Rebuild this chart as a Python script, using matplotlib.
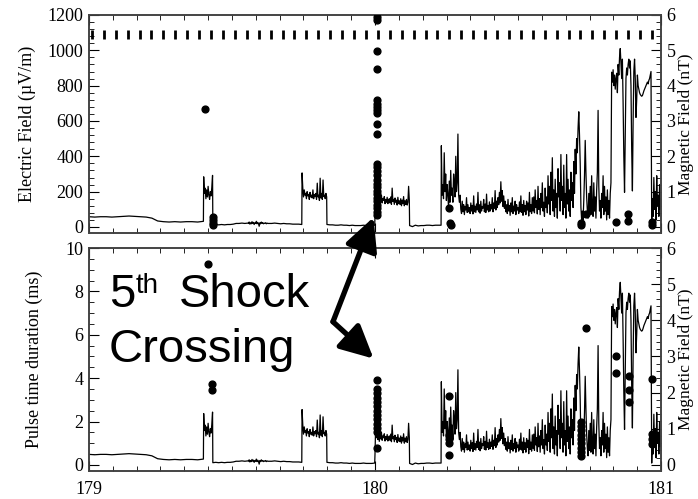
import numpy as np
import matplotlib.pyplot as plt
from matplotlib.ticker import MultipleLocator

# magnetic field trace (nT): (start day, end day, values)
quiet1 = (179.000, 179.400, [0.29, 0.28, 0.29, 0.29, 0.28, 0.29, 0.3, 0.31, 0.3, 0.29, 0.28,
                             0.25, 0.17, 0.15, 0.14, 0.15, 0.14, 0.15, 0.15, 0.14, 0.16])
pulse1 = (179.401, 179.432, [1.42, 0.95, 1.1, 0.8, 1.05, 0.85, 1.15, 0.9, 0.78, 1.0, 0.88, 1.12, 1.46])
quiet2 = (179.433, 179.555, [0.06, 0.07, 0.06, 0.07, 0.06, 0.07, 0.07, 0.08, 0.1, 0.1, 0.11, 0.1, 0.11])
noise1 = (179.5575, 179.625, [0.1, 0.14, 0.08, 0.12, 0.09, 0.15, 0.1, 0.13, 0.07, 0.12, 0.1, 0.16,
                              0.09, 0.13, 0.1, 0.02, 0.12, 0.09, 0.14, 0.1, 0.12, 0.09, 0.11, 0.1,
                              0.12, 0.09, 0.11, 0.1])
quiet3 = (179.628, 179.744, [0.1, 0.1, 0.11, 0.1, 0.09, 0.1, 0.09, 0.09, 0.08, 0.08, 0.08, 0.07])
pulse2 = (179.745, 179.831, [1.53, 1.1, 0.85, 1.05, 0.9, 0.95, 0.8, 1.0, 0.88, 0.92, 0.78, 0.98,
                             0.85, 0.9, 0.82, 1.05, 0.8, 0.92, 0.86, 0.95, 0.78, 1.24, 0.85, 0.9,
                             0.75, 1.38, 0.82, 0.95, 0.78, 1.33, 0.86, 0.9, 0.8, 0.95, 0.85])
quiet4 = (179.832, 179.999, [0.07, 0.06, 0.06, 0.05, 0.05, 0.06, 0.05, 0.05, 0.04, 0.05, 0.04, 0.04,
                             0.04, 0.05, 0.04, 0.04, 0.04, 0.05])
active1 = (180.000, 180.120, [0.3, 1.15, 0.75, 0.95, 0.7, 0.88, 0.65, 0.84, 0.72, 0.9, 0.68, 0.8,
                              0.75, 0.86, 0.66, 0.78, 0.7, 0.84, 0.66, 0.76, 0.8, 0.68, 0.85, 0.64,
                              1.1, 0.72, 0.78, 0.64, 0.82, 0.7, 0.76, 0.62, 0.84, 0.66, 0.74, 0.64,
                              0.8, 0.6, 0.76, 0.66, 0.86, 0.6, 0.74, 0.64, 0.78, 0.62, 0.7, 1.15, 0.75])
quiet5 = (180.121, 180.231, [0.04, 0.01, 0.05, 0.03, 0.04, 0.04, 0.05, 0.05, 0.04, 0.05, 0.05, 0.05])
active2 = (180.232, 180.300, [2.3, 0.9, 1.2, 0.8, 2.1, 1.0, 1.5, 0.75, 1.2, 0.9, 0.55, 1.3, 0.7,
                              1.6, 0.9, 1.1, 0.7, 1.5, 1.25, 0.85, 2.0, 1.0, 1.25, 2.63, 0.9, 0.7,
                              0.9, 0.5])
active3 = (180.3025, 180.550, [
    0.38, 0.73, 0.43, 0.63, 0.35, 0.58, 0.48, 0.83, 0.41, 0.63,
    0.43, 0.55, 0.38, 0.68, 0.45, 0.61, 0.37, 0.88, 0.43, 0.59,
    0.41, 0.65, 0.48, 0.98, 0.43, 0.63, 0.39, 0.73, 0.45, 0.58,
    0.53, 0.78, 0.43, 0.65, 0.41, 0.93, 0.48, 0.61, 0.43, 0.71,
    0.45, 0.63, 0.51, 0.83, 0.43, 0.68, 0.53, 1.03, 0.48, 0.73,
    0.55, 0.83, 0.63, 0.98, 0.68, 1.28, 0.73, 1.03, 0.58, 0.88,
    0.53, 0.73, 0.43, 0.63, 0.38, 0.78, 0.45, 0.61, 0.33, 0.68,
    0.43, 0.83, 0.38, 0.59, 0.45, 0.73, 0.35, 0.63, 0.48, 0.55,
    0.38, 0.71, 0.43, 0.88, 0.41, 0.63, 0.33, 0.75, 0.43, 0.61,
    0.35, 0.73, 0.48, 0.68, 0.31, 0.98, 0.43, 0.63, 0.38, 0.83])
active4 = (180.5525, 180.825, [
    0.45, 0.85, 0.4, 1.05, 0.55, 0.75, 0.37, 1.15, 0.5, 0.8,
    0.35, 0.95, 0.55, 1.25, 0.45, 0.7, 0.3, 1.1, 0.55, 0.85,
    0.4, 1.45, 0.65, 1.15, 0.35, 1.55, 0.75, 1.96, 0.45, 1.05,
    0.3, 1.35, 0.55, 0.95, 0.25, 1.65, 0.85, 1.25, 0.45, 2.05,
    0.75, 1.15, 0.35, 1.75, 0.55, 0.95, 0.25, 2.05, 0.65, 1.35,
    0.45, 1.05, 0.3, 1.55, 0.75, 1.25, 0.55, 1.85, 0.95, 2.2,
    1.5, 2.5, 2.1, 2.8, 3.26, 2.6, 1.8, 0.55, 0.2, 0.45,
    0.2, 0.75, 1.45, 2.45, 1.55, 0.85, 0.45, 0.25, 0.95, 0.4,
    1.15, 0.35, 1.45, 0.55, 0.3, 1.25, 0.45, 0.85, 0.25, 1.05,
    1.55, 3.3, 1.15, 0.45, 0.75, 0.25, 0.95, 0.55, 1.45, 0.35,
    1.15, 0.45, 0.85, 0.2, 1.05, 0.35, 0.75, 0.25, 0.95, 1.25])
active5 = (180.8275, 180.965, [
    4.38, 4.1, 4.45, 4.0, 4.3, 3.9, 4.2, 4.35, 3.8, 4.6,
    4.3, 4.8, 5.05, 4.6, 4.2, 4.75, 3.5, 2.0, 0.98, 2.5,
    4.2, 4.5, 4.3, 4.6, 4.75, 4.5, 4.7, 4.0, 2.2, 1.02,
    3.0, 4.4, 4.75, 4.2, 3.1, 3.6, 4.3, 4.0, 3.9, 3.8,
    3.75, 3.72, 3.7, 3.72, 3.78, 3.85, 3.9, 3.95, 4.0, 4.05,
    4.1, 4.05, 4.15, 4.2, 4.3, 4.4])
active6 = (180.9675, 181.000, [0.05, 0.8, 0.3, 1.4, 0.5, 1.0, 0.2, 1.45, 0.6, 0.9, 0.3, 1.2, 0.5, 0.8])

# electric field dots (day, uV/m)
efield_t = [179.405, 179.432, 179.432, 179.432, 179.432] + [180.007] * 26 + \
           [180.257, 180.262, 180.264, 180.722, 180.722, 180.737, 180.843, 180.886, 180.886,
            180.967, 180.967]
efield_v = [666, 55, 40, 25, 12,
            1190, 1170, 997, 895, 716, 697, 680, 662, 645, 581, 524, 355, 337, 319, 292, 265,
            245, 225, 205, 185, 165, 145, 125, 105, 85, 70,
            110, 25, 12, 25, 10, 75, 30, 75, 35, 30, 12]

# pulse duration dots (day, ms)
pulse_t = [179.417, 179.431, 179.431] + [180.007] * 13 + [180.26] * 5 + [180.722] * 9 + \
          [180.736, 180.843, 180.843, 180.888, 180.888, 180.888, 180.97, 180.97, 180.97, 180.97]
pulse_v = [9.24, 3.74, 3.44,
           3.93, 3.5, 3.3, 3.1, 2.9, 2.7, 2.5, 2.3, 2.1, 1.9, 1.7, 1.5, 0.8,
           3.2, 1.4, 1.2, 1.0, 0.46,
           2.0, 1.8, 1.6, 1.4, 1.2, 1.0, 0.8, 0.6, 0.4,
           6.3, 5.03, 4.25, 4.1, 3.44, 2.92, 3.96, 1.43, 1.2, 0.98]

# hourly marks along the top panel
hour_marks = 179.01 + np.arange(48) / 24

segments = [quiet1, pulse1, quiet2, noise1, quiet3, pulse2, quiet4, active1, quiet5,
            active2, active3, active4, active5, active6]
trace_t = np.concatenate([np.linspace(a, b, len(v)) for a, b, v in segments])
trace_b = np.concatenate([np.array(v, float) for a, b, v in segments])

plt.rcParams['font.family'] = 'Liberation Serif'
plt.rcParams['font.size'] = 13

fig = plt.figure(figsize=(6.98, 4.99), dpi=100)
ax1 = fig.add_axes([0.1275, 0.5331, 0.8195, 0.4369])
ax2 = fig.add_axes([0.1275, 0.0561, 0.8195, 0.4469])
ax1b = ax1.twinx()
ax2b = ax2.twinx()

for a, ab in [(ax1, ax1b), (ax2, ax2b)]:
    ab.plot(trace_t, trace_b, color='black', lw=0.9)
    ab.set_ylim(-0.17, 6)
    ab.yaxis.set_major_locator(MultipleLocator(1))
    ab.yaxis.set_minor_locator(MultipleLocator(0.2))
    ab.set_ylabel('Magnetic Field (nT)', fontsize=12.5)
    ab.yaxis.set_label_coords(1.03, 0.5)
    a.set_zorder(ab.get_zorder() + 1)
    a.patch.set_visible(False)
    a.set_xlim(179, 181)
    a.xaxis.set_major_locator(MultipleLocator(1))
    a.xaxis.set_minor_locator(MultipleLocator(1 / 12))
    for axx in (a, ab):
        axx.tick_params(which='both', direction='in', colors='black', pad=4)
        axx.tick_params(which='major', length=7)
        axx.tick_params(which='minor', length=3.5)
        for s in axx.spines.values():
            s.set_color('#444444')
            s.set_linewidth(1.2)
    a.tick_params(axis='x', which='both', top=True, bottom=True, pad=7)

ax1.scatter(efield_t, efield_v, s=24, color='black', zorder=3)
ax1.vlines(hour_marks, 1065, 1115, color='black', lw=2.0)
ax1.set_ylim(-34, 1200)
ax1.yaxis.set_major_locator(MultipleLocator(200))
ax1.yaxis.set_minor_locator(MultipleLocator(40))
ax1.set_ylabel('Electric Field (\u00b5V/m)', fontsize=13)
ax1.yaxis.set_label_coords(-0.093, 0.5)
ax1.tick_params(axis='x', labelbottom=False)

ax2.scatter(pulse_t, pulse_v, s=24, color='black', zorder=3)
ax2.set_ylim(-0.28, 10)
ax2.yaxis.set_major_locator(MultipleLocator(2))
ax2.yaxis.set_minor_locator(MultipleLocator(0.5))
ax2.set_ylabel('Pulse time duration (ms)', fontsize=13)
ax2.yaxis.set_label_coords(-0.081, 0.5)

# annotation
sans = 'Liberation Sans'
fig.text(0.156, 0.3848, '5', fontsize=34, family=sans, va='baseline')
fig.text(0.194, 0.4128, 'th', fontsize=20, family=sans, va='baseline')
fig.text(0.257, 0.3848, 'Shock', fontsize=34, family=sans, va='baseline')
fig.text(0.156, 0.2745, 'Crossing', fontsize=34, family=sans, va='baseline')

joint = (179.853, 6.6)
arrow = dict(arrowstyle='-|>,head_length=1.0,head_width=0.5', lw=3.8, color='black',
             shrinkA=0, shrinkB=0, mutation_scale=20)
ax2.annotate('', xy=(179.995, 55), xycoords=ax1.transData, xytext=joint,
             textcoords=ax2.transData, arrowprops=arrow, annotation_clip=False, zorder=10)
ax2.annotate('', xy=(179.995, 4.9), xycoords=ax2.transData, xytext=joint,
             textcoords=ax2.transData, arrowprops=arrow, annotation_clip=False, zorder=10)

fig.savefig('out.png', dpi=100)
